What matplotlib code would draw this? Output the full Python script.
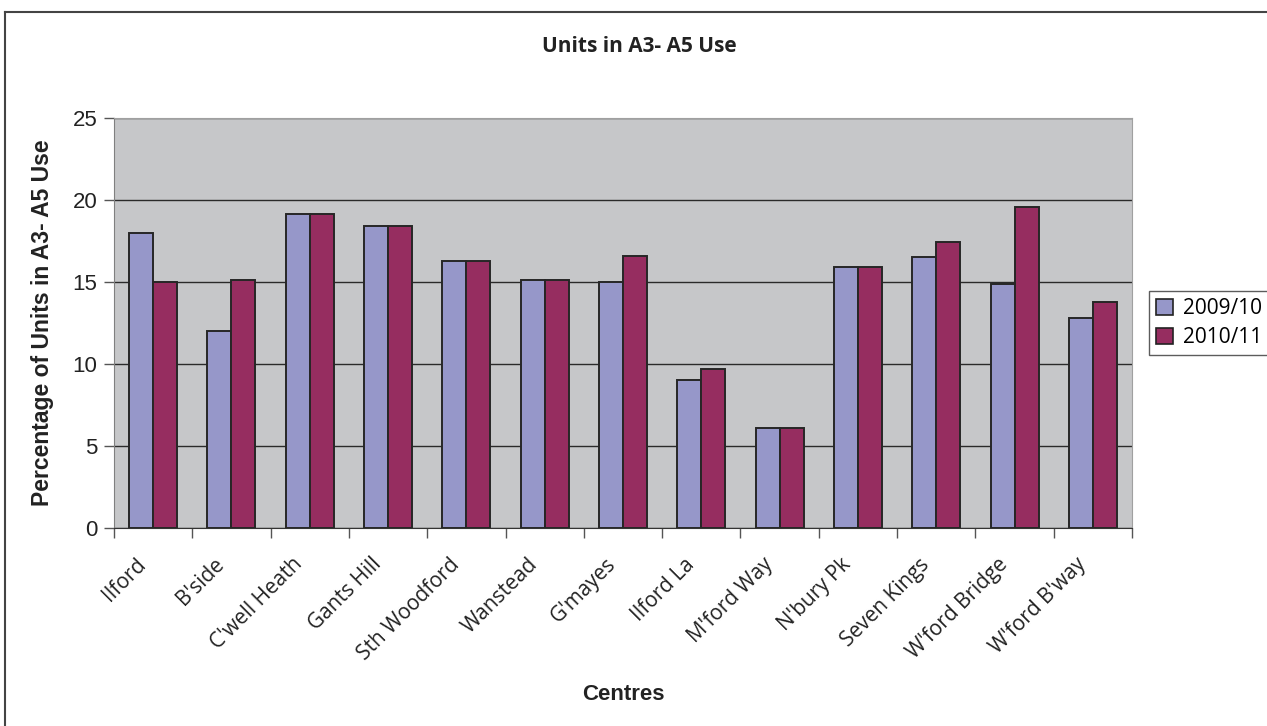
import numpy as np
import matplotlib
matplotlib.use("Agg")
import matplotlib.pyplot as plt
import matplotlib.transforms as mtransforms
from matplotlib.lines import Line2D
from matplotlib.patches import Patch

# Units in A3-A5 use per centre, two survey years
centres = ["Ilford", "B'side", "C'well Heath", "Gants Hill", "Sth Woodford",
           "Wanstead", "G'mayes", "Ilford La", "M'ford Way", "N'bury Pk",
           "Seven Kings", "W'ford Bridge", "W'ford B'way"]
pct_2009 = [18.0, 12.0, 19.15, 18.4, 16.3, 15.15, 15.0, 9.0, 6.1, 15.9, 16.5, 14.9, 12.8]
pct_2010 = [15.0, 15.15, 19.15, 18.4, 16.3, 15.15, 16.6, 9.7, 6.1, 15.9, 17.45, 19.6, 13.8]
series_names = ["2009/10", "2010/11"]
y_ticks = [0, 5, 10, 15, 20, 25]

COL_A = "#9697c9"
COL_B = "#962d60"
TXT = "#222222"
ARIAL = "Liberation Sans"
MYRIAD = "Open Sans"

W, H = 1267, 726
fig = plt.figure(figsize=(W / 100, H / 100), dpi=100)
fig.patch.set_facecolor("white")

ax = fig.add_axes([114 / W, 1 - 528 / H, (1132 - 114) / W, (528 - 118) / H])
ax.set_facecolor("#c6c7c9")

x = np.arange(len(centres))
bw = 0.306
ax.bar(x - bw / 2, pct_2009, bw, color=COL_A, edgecolor="#262626", linewidth=1.4, zorder=3)
ax.bar(x + bw / 2, pct_2010, bw, color=COL_B, edgecolor="#262626", linewidth=1.4, zorder=3)

ax.set_xlim(-0.5, len(centres) - 0.5)
ax.set_ylim(0, 25)
ax.set_yticks(y_ticks)
ax.set_yticklabels([str(v) for v in y_ticks], fontsize=16, family=ARIAL, color=TXT)
ax.yaxis.grid(True, color="#2a2a2a", linewidth=1, zorder=1)
ax.set_axisbelow(True)
ax.tick_params(axis="y", direction="out", length=7, width=1, color="#555555", pad=5)

# category labels at centres, tick marks at category boundaries
ax.set_xticks(x)
ax.set_xticks(np.arange(len(centres) + 1) - 0.5, minor=True)
ax.tick_params(axis="x", which="major", length=0, pad=24)
ax.tick_params(axis="x", which="minor", direction="out", length=7, width=1, color="#555555")
ax.set_xticklabels(centres, rotation=45, ha="right", va="center",
                   rotation_mode="anchor", fontsize=15, family=MYRIAD, color=TXT)
shift = mtransforms.ScaledTranslation(-10 / 100, 0, fig.dpi_scale_trans)
for lbl in ax.get_xticklabels():
    lbl.set_transform(lbl.get_transform() + shift)

for side in ["top", "right"]:
    ax.spines[side].set_color("#a0a0a0")
ax.spines["left"].set_color("#808080")
ax.spines["bottom"].set_color("#333333")

fig.text(43 / W, 1 - 323 / H, "Percentage of Units in A3- A5 Use", rotation=90,
         ha="center", va="center", fontsize=16.5, fontweight="bold", family=ARIAL, color=TXT)
fig.text(623 / W, 1 - 694 / H, "Centres", ha="center", va="center", fontsize=16,
         fontweight="bold", family=ARIAL, color=TXT)
fig.text(639 / W, 1 - 47 / H, "Units in A3- A5 Use", ha="center", va="center",
         fontsize=15, fontweight="bold", family=MYRIAD, color=TXT)

handles = [Patch(facecolor=COL_A, edgecolor="#222222", linewidth=1.2),
           Patch(facecolor=COL_B, edgecolor="#222222", linewidth=1.2)]
leg = fig.legend(handles, series_names, loc="center left",
                 bbox_to_anchor=(1149 / W, 1 - 323 / H), frameon=True, fancybox=False,
                 prop={"family": MYRIAD, "size": 15}, handlelength=0.8, handleheight=0.8,
                 handletextpad=0.5, borderpad=0.35, labelspacing=0.4, borderaxespad=0)
leg.get_frame().set_edgecolor("#333333")
leg.get_frame().set_linewidth(1)

# outer chart frame (top and left edges)
fig.add_artist(Line2D([5 / W, 5 / W], [0, 1 - 12 / H], color="#444444", linewidth=1.5))
fig.add_artist(Line2D([5 / W, 1], [1 - 12 / H, 1 - 12 / H], color="#444444", linewidth=1.5))

fig.savefig("out.png", dpi=100)
